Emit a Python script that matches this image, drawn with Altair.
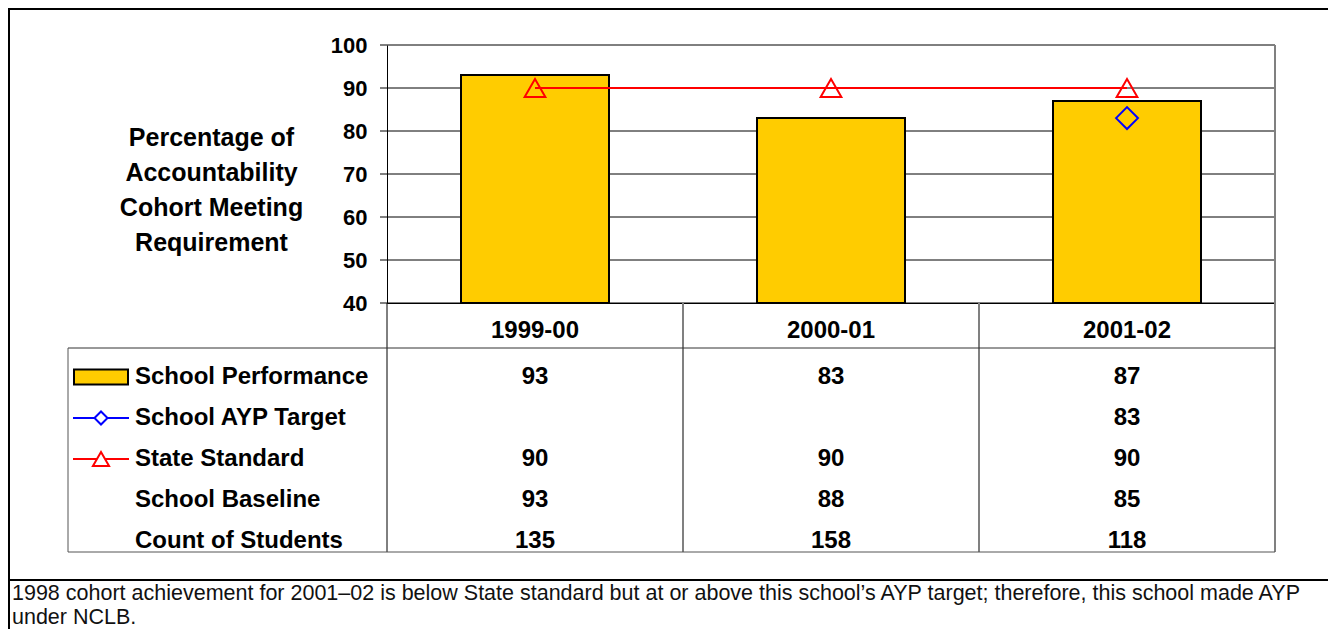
import altair as alt
import pandas as pd

# ---------------- data ----------------
years = ["1999-00", "2000-01", "2001-02"]
school_performance = [93, 83, 87]
school_ayp_target = [None, None, 83]
state_standard = [90, 90, 90]
school_baseline = [93, 88, 85]
count_of_students = [135, 158, 118]
row_labels = ["School Performance", "School AYP Target", "State Standard",
              "School Baseline", "Count of Students"]
y_ticks = [40, 50, 60, 70, 80, 90, 100]
y_title = ["Percentage of", "Accountability", "Cohort Meeting", "Requirement"]
footnote = ("1998 cohort achievement for 2001\u201302 is below State standard but at or above "
            "this school\u2019s AYP target; therefore, this school made AYP\nunder NCLB.")

# ---------------- layout ----------------
FONT = "Liberation Sans"
W, H = 1207, 507          # whole area: plot + table
PX0 = 319                 # left edge of the plot area (y axis)
PH = 258                  # plot area height
FS_TICK = 22
FS_TXT = 24
SVG_W, SVG_H = 1320, 621
PAD_L, PAD_T = 60, 37
RIGHT = SVG_W - PAD_L     # right edge of the svg in plot coordinates

df = pd.DataFrame({"year": years, "perf": school_performance,
                   "target": school_ayp_target, "state": state_standard})

x_scale = alt.Scale(domain=years, range=[PX0, W], paddingInner=0, paddingOuter=0)
x_axis = alt.Axis(orient="bottom", offset=-(H - PH), domain=True, domainColor="black",
                  domainWidth=1, ticks=False, labelFont=FONT, labelFontSize=FS_TXT,
                  labelFontWeight="bold", labelColor="black", labelPadding=15,
                  labelAngle=0, title=None)
y_scale = alt.Scale(domain=[40, 100], range=[PH, 0], nice=False, zero=False)
y_axis = alt.Axis(orient="left", offset=-PX0, values=y_ticks, grid=False, ticks=False,
                  domain=True, domainColor="black", domainWidth=1,
                  labelFont=FONT, labelFontSize=FS_TICK, labelFontWeight="bold",
                  labelColor="black", labelPadding=20,
                  title=y_title, titleAngle=0, titleAlign="center",
                  titleBaseline="alphabetic", titleX=143 - PX0, titleY=100,
                  titleFont=FONT, titleFontSize=25, titleFontWeight="bold",
                  titleColor="black", titleLineHeight=35)


def X(bp=None):
    if bp is None:
        return alt.X("year:N", scale=x_scale, axis=x_axis)
    return alt.X("year:N", scale=x_scale, axis=x_axis, bandPosition=bp)


grid = alt.Chart(pd.DataFrame({"v": y_ticks})).mark_rule(color="black", strokeWidth=1).encode(
    x=alt.value(PX0 - 7), x2=alt.value(W),
    y=alt.Y("v:Q", scale=y_scale, axis=y_axis))

bars = alt.Chart(df).mark_bar(color="#FFCC00", stroke="black", strokeWidth=2,
                              width=alt.RelativeBandSize(0.5)).encode(
    x=X(), y=alt.Y("perf:Q", scale=y_scale, axis=y_axis), y2=alt.datum(40))

state_line = alt.Chart(df).mark_line(color="#FF0000", strokeWidth=2).encode(
    x=X(0.5), y=alt.Y("state:Q", scale=y_scale, axis=y_axis))
state_pts = alt.Chart(df).mark_point(shape="triangle-up", filled=False, color="#FF0000",
                                     size=430, strokeWidth=2, opacity=1).encode(
    x=X(0.5), y=alt.Y("state:Q", scale=y_scale, axis=y_axis))
target_pts = alt.Chart(df.dropna(subset=["target"])).mark_point(
    shape="diamond", filled=False, color="#0000FF", size=480, strokeWidth=2, opacity=1).encode(
    x=X(0.5), y=alt.Y("target:Q", scale=y_scale, axis=y_axis))

plot_group = alt.layer(grid, bars, state_line, state_pts, target_pts)

# ---------------- data table ----------------
row_scale = alt.Scale(type="point", domain=row_labels, range=[332, 496], padding=0)
Yr = alt.Y("row:N", scale=row_scale, axis=None)

series = [school_performance, school_ayp_target, state_standard, school_baseline,
          count_of_students]
recs = []
for lab, vals in zip(row_labels, series):
    for yr, v in zip(years, vals):
        if v is not None:
            recs.append({"row": lab, "year": yr, "txt": str(v)})
tdf = pd.DataFrame(recs)

table_vals = alt.Chart(tdf).mark_text(font=FONT, fontSize=FS_TXT, fontWeight="bold",
                                      color="black", baseline="middle").encode(
    x=X(0.5), y=Yr, text="txt:N")

ldf = pd.DataFrame({"row": row_labels})
legend_labels = alt.Chart(ldf).mark_text(font=FONT, fontSize=FS_TXT, fontWeight="bold",
                                         color="black", align="left", baseline="middle").encode(
    x=alt.value(67), y=Yr, text="row:N")

sym_bar_out = alt.Chart(ldf.iloc[[0]]).mark_rule(color="black", strokeWidth=17, strokeCap="butt").encode(
    x=alt.value(5), x2=alt.value(61), y=Yr)
sym_bar_in = alt.Chart(ldf.iloc[[0]]).mark_rule(color="#FFCC00", strokeWidth=13, strokeCap="butt").encode(
    x=alt.value(7), x2=alt.value(59), y=Yr)
sym_blue_line = alt.Chart(ldf.iloc[[1]]).mark_rule(color="#0000FF", strokeWidth=2).encode(
    x=alt.value(5), x2=alt.value(61), y=Yr)
sym_blue_pt = alt.Chart(ldf.iloc[[1]]).mark_point(shape="diamond", filled=True, fill="white",
                                                  stroke="#0000FF", size=170, strokeWidth=2,
                                                  opacity=1).encode(x=alt.value(33), y=Yr)
sym_red_line = alt.Chart(ldf.iloc[[2]]).mark_rule(color="#FF0000", strokeWidth=2).encode(
    x=alt.value(5), x2=alt.value(61), y=Yr)
sym_red_pt = alt.Chart(ldf.iloc[[2]]).mark_point(shape="triangle-up", filled=True, fill="white",
                                                 stroke="#FF0000", size=260, strokeWidth=2,
                                                 opacity=1).encode(x=alt.value(33), y=Yr)

one = pd.DataFrame({"a": [0]})
sep_first = alt.Chart(df.iloc[[0]]).mark_rule(color="black", strokeWidth=1).encode(
    x=X(0), y=alt.value(PH), y2=alt.value(H))
sep_rest = alt.Chart(df.iloc[1:]).mark_rule(color="#808080", strokeWidth=2).encode(
    x=X(0), y=alt.value(PH), y2=alt.value(H))
right_border = alt.Chart(one).mark_rule(color="#808080", strokeWidth=2).encode(
    x=alt.value(W), y=alt.value(0), y2=alt.value(H))
header_line = alt.Chart(one).mark_rule(color="#333333", strokeWidth=1).encode(
    x=alt.value(0), x2=alt.value(W), y=alt.value(303))
bottom_line = alt.Chart(one).mark_rule(color="#555555", strokeWidth=1).encode(
    x=alt.value(0), x2=alt.value(W), y=alt.value(H))
left_line = alt.Chart(one).mark_rule(color="#555555", strokeWidth=1).encode(
    x=alt.value(0), y=alt.value(303), y2=alt.value(H))

table_group = alt.layer(sep_first, sep_rest, right_border, header_line, bottom_line, left_line,
                        sym_bar_out, sym_bar_in, sym_blue_line, sym_blue_pt,
                        sym_red_line, sym_red_pt, legend_labels, table_vals)

# ---------------- frame + footnote ----------------
frame_left = alt.Chart(one).mark_rule(color="black", strokeWidth=2).encode(
    x=alt.value(-59), y=alt.value(-37), y2=alt.value(SVG_H - PAD_T))
frame_top = alt.Chart(one).mark_rule(color="black", strokeWidth=2).encode(
    x=alt.value(-60), x2=alt.value(RIGHT), y=alt.value(-36))
frame_mid = alt.Chart(one).mark_rule(color="black", strokeWidth=2).encode(
    x=alt.value(-60), x2=alt.value(RIGHT), y=alt.value(535))
note = alt.Chart(pd.DataFrame({"t": [footnote]})).mark_text(
    font=FONT, fontSize=21.5, color="#111111", align="left", baseline="alphabetic",
    lineBreak="\n", lineHeight=24).encode(x=alt.value(-56), y=alt.value(555), text="t:N")

deco = alt.layer(frame_left, frame_top, frame_mid, note)

chart = alt.layer(plot_group, table_group, deco).resolve_scale(y="independent").properties(
    width=W, height=H,
    autosize=alt.AutoSizeParams(type="none"),
    padding={"left": PAD_L, "top": PAD_T, "right": SVG_W - PAD_L - W,
             "bottom": SVG_H - PAD_T - H},
    background="white",
).configure_view(stroke=None)

chart.save("out.html", embed_options={"renderer": "svg", "actions": False})
